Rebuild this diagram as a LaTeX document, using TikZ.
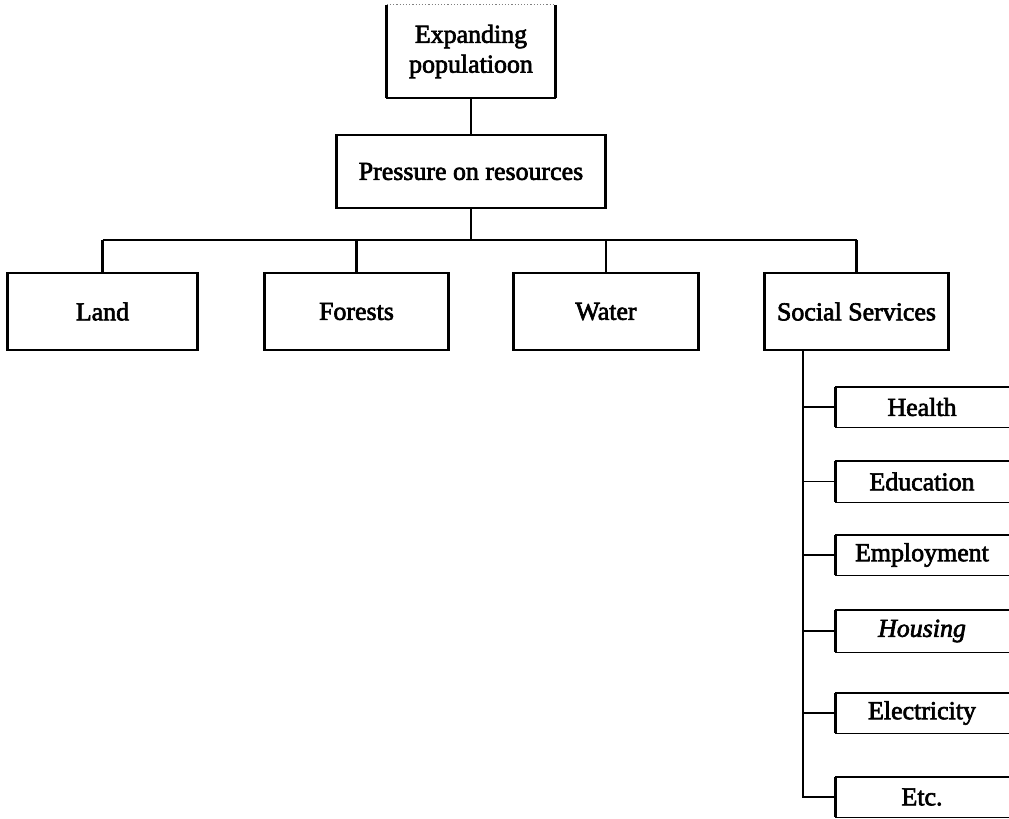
\documentclass[tikz,border=0pt]{standalone}
\usepackage{fontspec}
\setmainfont{Liberation Serif}
\newfontfamily\labelfont{Liberation Serif}[FakeBold=2.5]
\begin{document}
\begin{tikzpicture}[x=1bp,y=-1bp,
  every node/.style={font=\labelfont\fontsize{26}{30}\selectfont},
  box/.style={draw=black, line width=1.4bp, inner sep=0pt, align=center},
  openbox/.style={inner sep=0pt, align=center},
  boxline/.style={line width=1.4bp},
  side/.style={line width=2.8bp},
  link/.style={line width=2.8bp},
  bus/.style={line width=1.8bp},
  thinlink/.style={line width=1.4bp},
  ]
\useasboundingbox (0,0) rectangle (1009,819);

% top of the hierarchy
\node[openbox, minimum width=168bp, minimum height=93bp] (pop) at (471,51.5)
  {Expanding\\populatioon};
\draw[boxline] (pop.north west) -- (pop.south west) -- (pop.south east) -- (pop.north east);
\draw[line width=1.2bp, dotted, gray] (pop.north west) -- (pop.north east);

\node[box, minimum width=267bp, minimum height=73bp] (press) at (471,171.5)
  {Pressure on resources};

% the four resource groups
\node[box, minimum width=189bp, minimum height=77bp] (land)    at (102.5,311.5) {Land};
\node[box, minimum width=183bp, minimum height=77bp] (forests) at (356.5,311.5) {Forests};
\node[box, minimum width=184bp, minimum height=77bp] (water)   at (606,311.5)   {Water};
\node[box, minimum width=183bp, minimum height=77bp] (social)  at (856.5,311.5) {Social Services};

% heavier vertical sides of the closed boxes
\foreach \n in {pop,press,land,forests,water,social}{
  \draw[side] (\n.north west) -- (\n.south west);
  \draw[side] (\n.north east) -- (\n.south east);
}

% social services breakdown (boxes run off the right margin)
\node[openbox, minimum width=172bp, minimum height=40bp] (health)      at (922,407)   {Health};
\node[openbox, minimum width=172bp, minimum height=41bp] (education)   at (922,481.5) {Education};
\node[openbox, minimum width=172bp, minimum height=40bp] (employment)  at (922,555)   {Employment};
\node[openbox, minimum width=172bp, minimum height=42bp] (housing)     at (922,631)   {\itshape Housing};
\node[openbox, minimum width=172bp, minimum height=40bp] (electricity) at (922,713)   {Electricity};
\node[openbox, minimum width=172bp, minimum height=40bp] (etc)         at (922,797)   {Etc.};
\foreach \n in {health,education,employment,housing,electricity,etc}{
  \draw[boxline] ([xshift=4bp]\n.north east) -- (\n.north west)
                 -- (\n.south west) -- ([xshift=4bp]\n.south east);
  \draw[side] (\n.north west) -- (\n.south west);
}

% connectors
\coordinate (busL) at (102.5,240);
\draw[link] (pop.south) -- (press.north);
\draw[link] (press.south) -- (press.south |- busL);
\draw[bus] (land.north |- busL) -- (social.north |- busL);
\foreach \n in {land,forests,water,social}
  \draw[link] (\n.north |- busL) -- (\n.north);

\coordinate (spine) at (803,350);
\draw[link] (spine) -- (spine |- etc.west) -- (etc.west);
\foreach \n in {health,education,employment,housing,electricity}
  \draw[thinlink] (spine |- \n.west) -- (\n.west);
\end{tikzpicture}
\end{document}
